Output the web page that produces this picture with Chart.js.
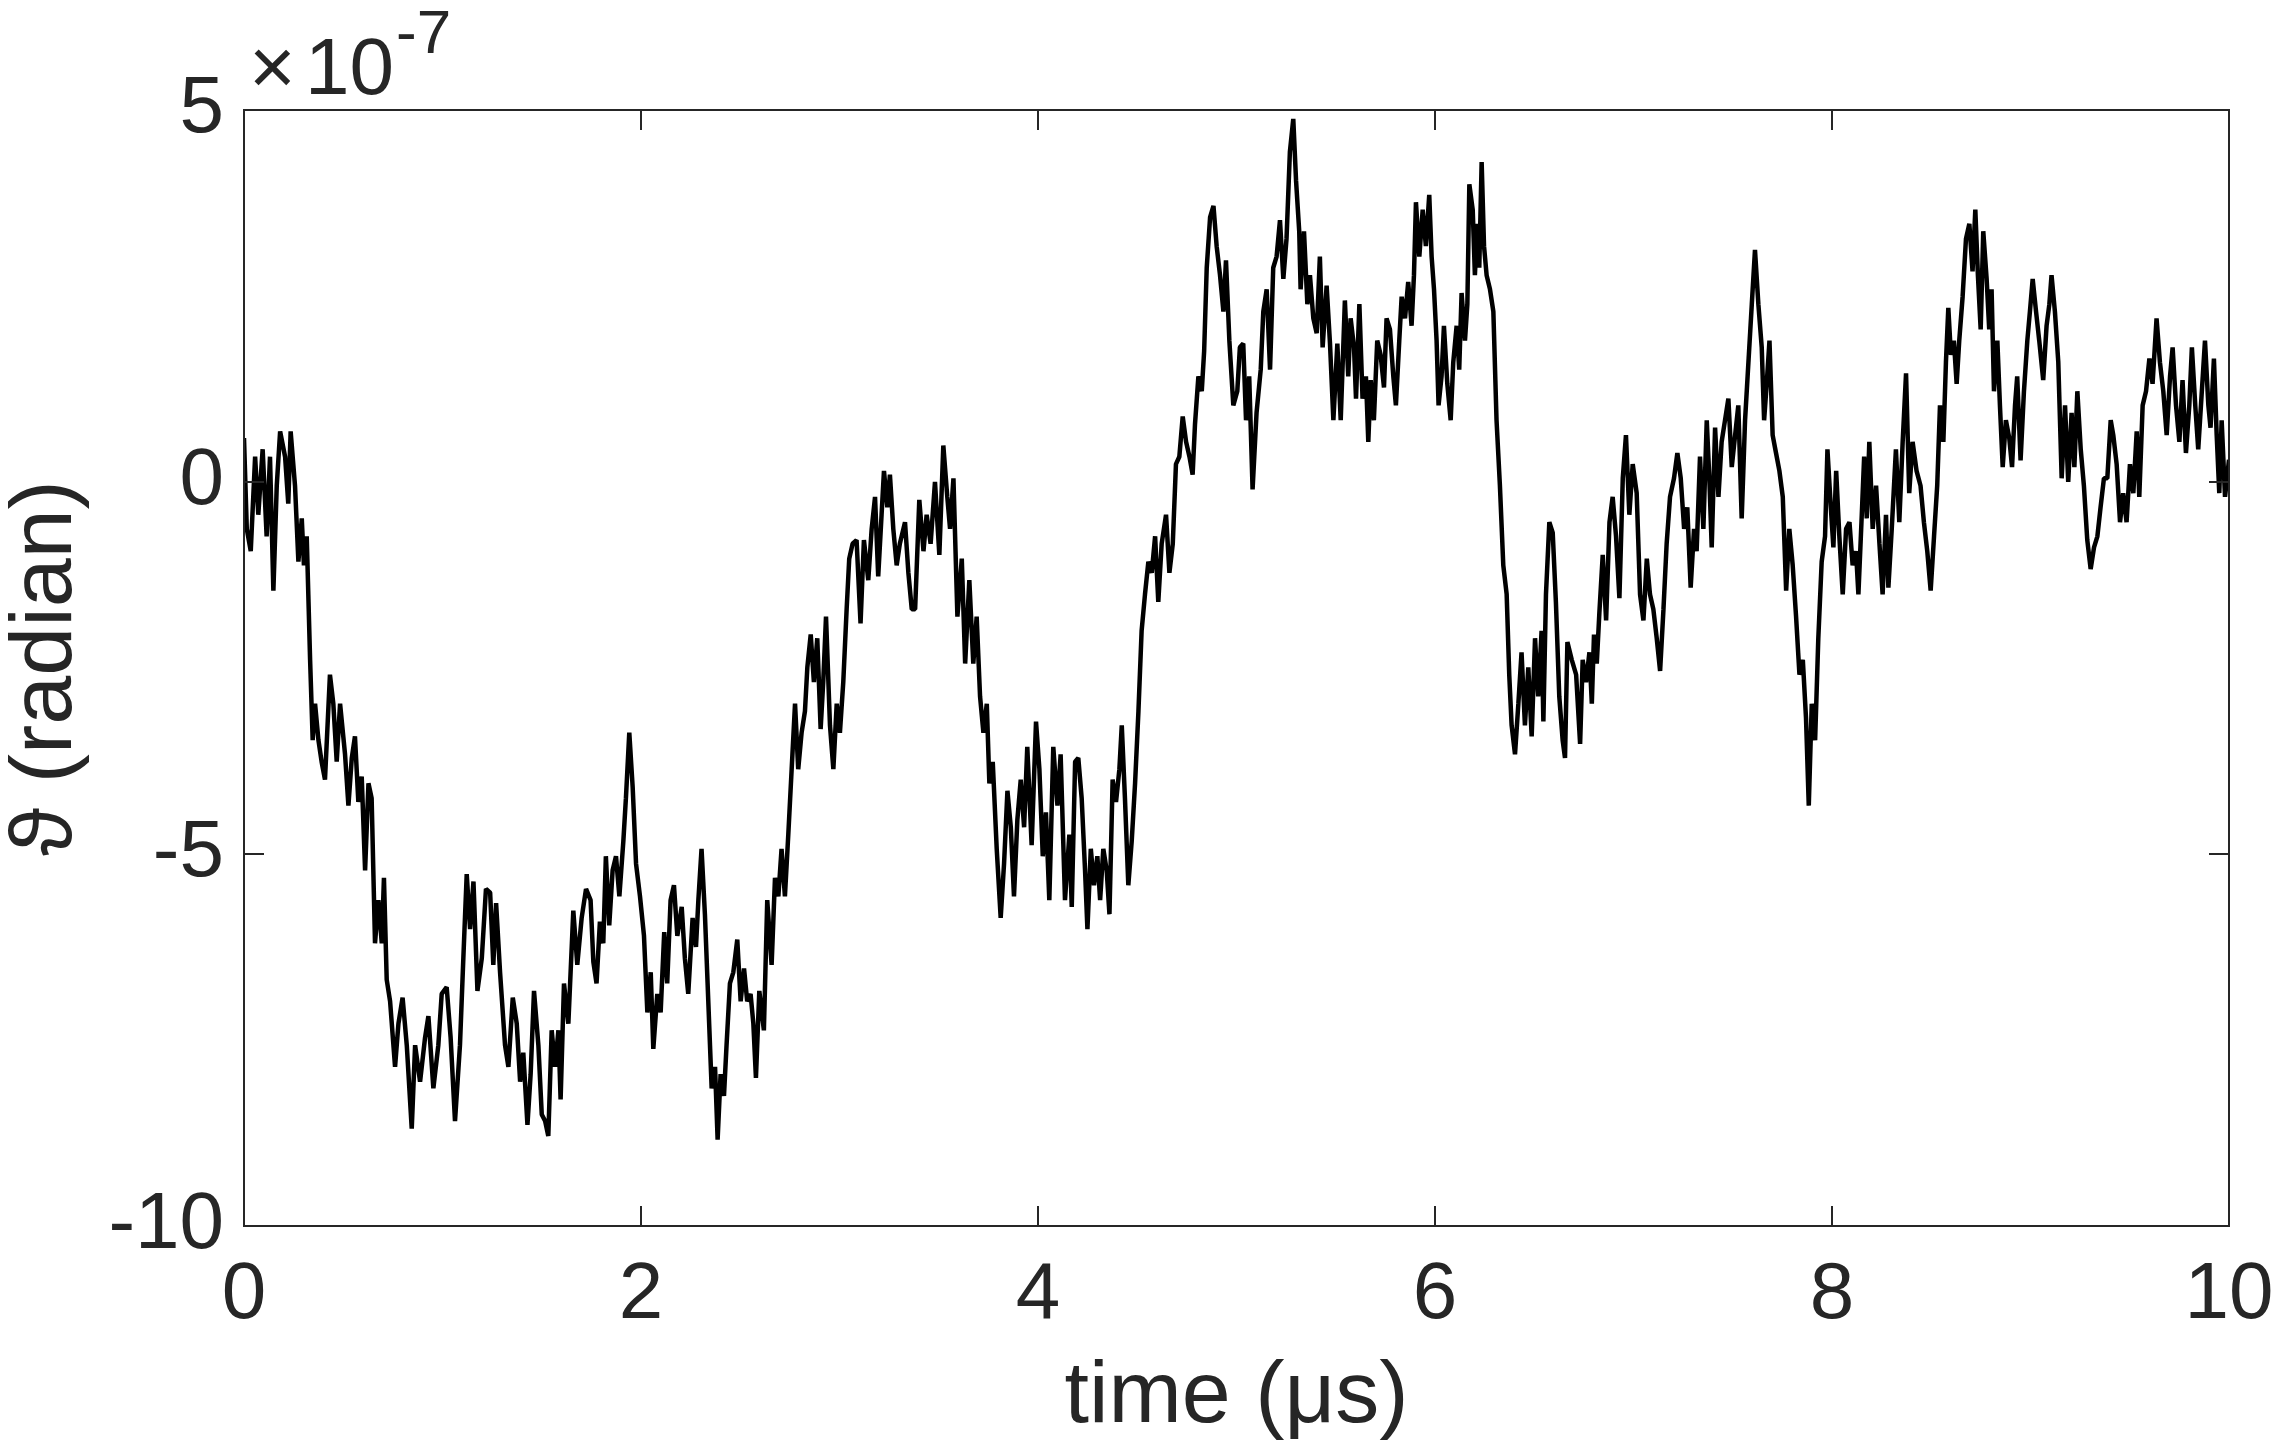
<!DOCTYPE html>
<html>
<head>
<meta charset="utf-8">
<script src="https://cdn.jsdelivr.net/npm/chart.js@4.4.1/dist/chart.umd.min.js"></script>
<style>
  html, body { margin: 0; padding: 0; background: #ffffff; overflow: hidden; }
  #wrap { width: 2275px; height: 1442px; }
</style>
</head>
<body>
<div id="wrap"><canvas id="c" width="2275" height="1442"></canvas></div>
<script>
// ---- data ----
// time in microseconds
const timeUs = [
  0, 0.014, 0.034, 0.056, 0.072, 0.094, 0.114, 0.131, 0.148, 0.165, 0.182, 0.207, 0.223, 0.235, 0.257, 0.274, 0.291, 0.302, 0.316, 0.333,
  0.346, 0.358, 0.375, 0.391, 0.408, 0.433, 0.450, 0.467, 0.484, 0.509, 0.526, 0.543, 0.559, 0.576, 0.593, 0.610, 0.627, 0.643, 0.660, 0.677,
  0.694, 0.705, 0.719, 0.736, 0.761, 0.778, 0.799, 0.820, 0.845, 0.862, 0.887, 0.912, 0.929, 0.954, 0.979, 0.996, 1.021, 1.041, 1.063, 1.088,
  1.105, 1.122, 1.139, 1.156, 1.176, 1.198, 1.219, 1.240, 1.256, 1.270, 1.290, 1.315, 1.332, 1.354, 1.374, 1.391, 1.407, 1.428, 1.444, 1.461,
  1.483, 1.500, 1.517, 1.533, 1.550, 1.567, 1.584, 1.595, 1.612, 1.634,
  1.659, 1.679, 1.701, 1.723, 1.746, 1.760, 1.776, 1.793, 1.810, 1.823, 1.840, 1.857, 1.874, 1.891, 1.911, 1.924, 1.941, 1.958, 1.975, 1.995,
  2.015, 2.032, 2.049, 2.062, 2.082, 2.099, 2.117, 2.132, 2.149, 2.166, 2.183, 2.205, 2.221, 2.238, 2.260, 2.277, 2.289, 2.305, 2.322, 2.339,
  2.356, 2.373, 2.386, 2.401, 2.418, 2.431, 2.448, 2.465, 2.485, 2.502, 2.519, 2.535, 2.552, 2.566, 2.579, 2.596, 2.619, 2.636, 2.658, 2.675,
  2.692, 2.708, 2.725, 2.742, 2.759, 2.776, 2.792, 2.809, 2.826, 2.838, 2.855, 2.871, 2.888, 2.905, 2.918, 2.932, 2.952, 2.969, 2.986, 3.002,
  3.019, 3.036, 3.049, 3.066, 3.086, 3.106, 3.123, 3.145, 3.162, 3.179, 3.195, 3.212, 3.224, 3.241, 3.254, 3.271, 3.288, 3.304,
  3.330, 3.347, 3.364, 3.381, 3.402, 3.423, 3.439, 3.459, 3.481, 3.503, 3.523, 3.543, 3.557, 3.574, 3.594, 3.616, 3.633, 3.654, 3.674, 3.691,
  3.708, 3.725, 3.742, 3.755, 3.772, 3.792, 3.812, 3.829, 3.846, 3.863, 3.879, 3.896, 3.913, 3.930, 3.946, 3.968, 3.990, 4.007, 4.024, 4.040,
  4.057, 4.077, 4.098, 4.114, 4.136, 4.158, 4.170, 4.187, 4.203, 4.220, 4.237, 4.249, 4.266, 4.282, 4.299, 4.313, 4.329, 4.346, 4.360, 4.376,
  4.393, 4.410, 4.422, 4.438, 4.455, 4.472, 4.489, 4.506, 4.522, 4.539, 4.556, 4.573, 4.590, 4.606, 4.623, 4.645, 4.662, 4.679, 4.695, 4.712,
  4.729, 4.746, 4.763, 4.779, 4.791, 4.808, 4.825, 4.837, 4.850, 4.867, 4.884, 4.900, 4.917, 4.934, 4.947, 4.964,
  4.984, 5.004, 5.017, 5.034, 5.048, 5.064, 5.081, 5.101, 5.122, 5.135, 5.152, 5.169, 5.185, 5.202, 5.219, 5.236, 5.252, 5.269, 5.286, 5.300,
  5.316, 5.323, 5.340, 5.357, 5.370, 5.387, 5.404, 5.420, 5.434, 5.454, 5.471, 5.488, 5.508, 5.525, 5.546, 5.563, 5.575, 5.592, 5.602, 5.619,
  5.635, 5.652, 5.664, 5.676, 5.692, 5.709, 5.726, 5.743, 5.756, 5.773, 5.790, 5.803, 5.820, 5.832, 5.849, 5.865, 5.882, 5.894, 5.904, 5.921,
  5.938, 5.954, 5.971, 5.983, 5.995, 6.008, 6.018, 6.033, 6.045, 6.062, 6.079, 6.092, 6.109, 6.122, 6.134, 6.151, 6.163, 6.173, 6.190, 6.201,
  6.213, 6.223, 6.235, 6.247, 6.260, 6.277, 6.294, 6.310, 6.327, 6.344, 6.361, 6.374, 6.386, 6.403, 6.420, 6.436, 6.453, 6.470, 6.487, 6.504,
  6.520, 6.537, 6.546, 6.559, 6.576, 6.593, 6.609, 6.626, 6.643, 6.655,
  6.667, 6.689, 6.711, 6.731, 6.744, 6.761, 6.778, 6.790, 6.801, 6.815, 6.828, 6.845, 6.862, 6.879, 6.895, 6.912, 6.929, 6.946, 6.962, 6.979,
  6.996, 7.016, 7.033, 7.050, 7.067, 7.083, 7.100, 7.117, 7.134, 7.151, 7.167, 7.184, 7.204, 7.221, 7.238, 7.255, 7.271, 7.288, 7.305, 7.318,
  7.335, 7.352, 7.369, 7.382, 7.394, 7.411, 7.428, 7.444, 7.461, 7.478, 7.495, 7.512, 7.528, 7.545, 7.562, 7.579, 7.596, 7.612, 7.629, 7.646,
  7.658, 7.671, 7.685, 7.701, 7.718, 7.735, 7.752, 7.769, 7.785, 7.802, 7.819, 7.836, 7.853, 7.869, 7.883, 7.898, 7.915, 7.931, 7.948, 7.965,
  7.977, 7.994, 8.007, 8.021, 8.037, 8.054, 8.071, 8.088, 8.104, 8.121, 8.133, 8.150, 8.162, 8.175, 8.188, 8.205, 8.222, 8.239, 8.255, 8.272,
  8.284, 8.301,
  8.322, 8.339, 8.356, 8.373, 8.389, 8.406, 8.426, 8.446, 8.463, 8.480, 8.497, 8.514, 8.530, 8.544, 8.561, 8.574, 8.586, 8.599, 8.614, 8.628,
  8.641, 8.658, 8.675, 8.692, 8.708, 8.722, 8.735, 8.749, 8.762, 8.779, 8.792, 8.804, 8.816, 8.833, 8.846, 8.860, 8.876, 8.893, 8.907, 8.922,
  8.933, 8.950, 8.967, 8.984, 8.997, 9.011, 9.028, 9.044, 9.064, 9.081, 9.095, 9.106, 9.123, 9.140, 9.157, 9.174, 9.190, 9.207, 9.221, 9.236,
  9.253, 9.269, 9.286, 9.303, 9.320, 9.337, 9.353, 9.370, 9.387, 9.404, 9.417, 9.434, 9.451, 9.467, 9.484, 9.501, 9.518, 9.535, 9.548, 9.565,
  9.582, 9.599, 9.615, 9.635, 9.652, 9.669, 9.686, 9.703, 9.716, 9.733, 9.750, 9.766, 9.783, 9.800, 9.813, 9.830, 9.845, 9.862, 9.879, 9.896,
  9.907, 9.924, 9.938, 9.951, 9.963, 9.980, 10.0
];

// angle theta, in units of 1e-7 radian
const thetaE7 = [
  0.59, -0.63, -0.93, 0.34, -0.44, 0.44, -0.73, 0.34, -1.46, -0.05, 0.68, 0.34, -0.29, 0.68, -0.05, -1.07, -0.49, -1.12, -0.73, -2.39,
  -3.47, -2.98, -3.47, -3.76, -4.0, -2.59, -2.98, -3.76, -2.98, -3.66, -4.35, -3.71, -3.42, -4.30, -3.96, -5.22, -4.05, -4.25, -6.20, -5.62,
  -6.20, -5.32, -6.69, -6.98, -7.86, -7.28, -6.93, -7.57, -8.69, -7.57, -8.06, -7.47, -7.18, -8.15, -7.57, -6.88, -6.79, -7.47, -8.59, -7.57,
  -6.40, -5.27, -6.01, -5.37, -6.84, -6.40, -5.47, -5.52, -6.49, -5.66, -6.59, -7.57, -7.86, -6.93, -7.28, -8.06, -7.67, -8.64, -7.96, -6.84,
  -7.57, -8.50, -8.59, -8.79, -7.37, -7.86, -7.37, -8.30, -6.74, -7.28,
  -5.76, -6.49, -5.86, -5.47, -5.62, -6.45, -6.74, -5.91, -6.20, -5.03, -5.96, -5.22, -5.03, -5.57, -4.83, -4.25, -3.37, -4.10, -5.13, -5.57,
  -6.10, -7.13, -6.59, -7.62, -6.88, -7.13, -6.05, -6.74, -5.62, -5.42, -6.10, -5.71, -6.40, -6.88, -5.86, -6.25, -5.62, -4.93, -5.81, -6.98,
  -8.15, -7.86, -8.84, -7.96, -8.25, -7.57, -6.74, -6.59, -6.15, -6.98, -6.54, -6.98, -6.88, -7.28, -8.01, -6.84, -7.37, -5.62, -6.49, -5.32,
  -5.57, -4.93, -5.57, -4.74, -3.86, -2.98, -3.86, -3.37, -3.08, -2.49, -2.05, -2.69, -2.10, -3.32, -2.69, -1.81, -3.27, -3.86, -2.98, -3.37,
  -2.69, -1.71, -1.03, -0.83, -0.78, -1.90, -0.78, -1.32, -0.63, -0.20, -1.27, -0.44, 0.15, -0.34, 0.10, -0.63, -1.12, -0.83,
  -0.54, -1.22, -1.71, -1.71, -0.24, -0.93, -0.44, -0.83, 0.00, -0.98, 0.49, -0.20, -0.63, 0.05, -1.81, -1.03, -2.44, -1.32, -2.44, -1.81,
  -2.88, -3.37, -2.98, -4.05, -3.76, -4.93, -5.86, -5.13, -4.15, -4.64, -5.57, -4.54, -4.00, -4.64, -3.56, -4.88, -3.22, -3.86, -5.03, -4.44,
  -5.62, -3.56, -4.35, -3.66, -5.62, -4.74, -5.71, -3.76, -3.71, -4.25, -5.22, -6.01, -4.93, -5.42, -5.03, -5.62, -4.93, -5.22, -5.81, -4.00,
  -4.30, -3.86, -3.27, -4.25, -5.42, -4.83, -4.05, -3.08, -2.00, -1.51, -1.07, -1.22, -0.73, -1.61, -0.83, -0.44, -1.22, -0.83, 0.24, 0.34,
  0.88, 0.54, 0.34, 0.10, 0.78, 1.42, 1.22, 1.76, 2.88, 3.56, 3.71, 3.17, 2.78, 2.29, 2.98, 1.90,
  1.03, 1.22, 1.81, 1.86, 0.83, 1.42, -0.10, 0.93, 1.51, 2.29, 2.59, 1.51, 2.88, 3.03, 3.52, 2.73, 3.27, 4.44, 4.88, 4.05,
  3.37, 2.59, 3.37, 2.39, 2.78, 2.20, 2.00, 3.03, 1.81, 2.64, 1.86, 0.83, 1.86, 0.83, 2.44, 1.42, 2.20, 1.81, 1.12, 2.39,
  1.12, 1.42, 0.54, 1.37, 0.83, 1.90, 1.71, 1.27, 2.20, 2.05, 1.42, 1.03, 1.90, 2.49, 2.20, 2.69, 2.10, 2.78, 3.76, 3.03,
  3.66, 3.17, 3.86, 3.03, 2.59, 1.90, 1.03, 1.42, 2.10, 1.32, 0.83, 1.61, 2.10, 1.51, 2.54, 1.90, 2.39, 4.00, 3.66, 2.78,
  3.47, 2.88, 4.30, 3.17, 2.78, 2.59, 2.29, 0.83, -0.05, -1.12, -1.51, -2.59, -3.27, -3.66, -2.98, -2.29, -3.27, -2.49, -3.42, -2.10,
  -2.88, -2.00, -3.22, -1.51, -0.54, -0.68, -1.61, -2.88, -3.47, -3.71,
  -2.15, -2.39, -2.59, -3.52, -2.39, -2.69, -2.29, -2.98, -2.05, -2.44, -1.76, -0.98, -1.86, -0.54, -0.20, -0.73, -1.56, 0.05, 0.63, -0.44,
  0.24, -0.15, -1.51, -1.86, -1.03, -1.51, -1.71, -2.10, -2.54, -1.71, -0.83, -0.20, 0.05, 0.39, 0.05, -0.63, -0.34, -1.42, -0.63, -0.93,
  0.34, -0.63, 0.83, 0.05, -0.88, 0.73, -0.20, 0.54, 0.83, 1.12, 0.20, 0.63, 1.03, -0.49, 0.83, 1.61, 2.39, 3.12, 2.39, 1.81,
  0.83, 1.32, 1.90, 0.63, 0.39, 0.15, -0.20, -1.46, -0.63, -1.12, -1.81, -2.59, -2.39, -3.17, -4.35, -2.98, -3.47, -2.10, -1.07, -0.73,
  0.44, -0.34, -0.88, 0.15, -0.73, -1.51, -0.63, -0.54, -1.12, -0.93, -1.51, -0.44, 0.34, -0.49, 0.54, -0.63, -0.05, -0.83, -1.51, -0.44,
  -1.42, -0.63,
  0.44, -0.54, 0.54, 1.46, -0.15, 0.54, 0.15, -0.05, -0.54, -0.93, -1.46, -0.73, -0.05, 1.03, 0.54, 1.61, 2.34, 1.71, 1.90, 1.32,
  1.90, 2.49, 3.27, 3.47, 2.83, 3.66, 2.78, 2.05, 3.37, 2.73, 2.05, 2.59, 1.22, 1.90, 1.03, 0.20, 0.83, 0.59, 0.20, 1.03,
  1.42, 0.29, 1.22, 1.90, 2.29, 2.73, 2.29, 1.90, 1.37, 2.10, 2.39, 2.78, 2.29, 1.61, 0.05, 1.03, 0.00, 0.93, 0.20, 1.22,
  0.44, -0.05, -0.78, -1.17, -0.88, -0.73, -0.34, 0.05, 0.05, 0.83, 0.63, 0.24, -0.54, -0.15, -0.54, 0.24, -0.15, 0.68, -0.20, 1.03,
  1.22, 1.66, 1.32, 2.20, 1.61, 1.22, 0.63, 1.42, 1.81, 1.03, 0.54, 1.37, 0.39, 1.03, 1.81, 1.03, 0.44, 1.17, 1.90, 1.03,
  0.73, 1.66, 0.63, -0.15, 0.83, -0.20, 0.30
];

const xTicks = [0, 2, 4, 6, 8, 10];
const yTicks = [-10, -5, 0, 5];
const xTitle = 'time (\u03bcs)';
const yTitle = '\u03d1 (radian)';
const exponentBase = '10';
const exponentPower = '-7';

if (timeUs.length !== thetaE7.length) console.error('length mismatch', timeUs.length, thetaE7.length);

const FONT = '"Liberation Sans", Arial, Helvetica, sans-serif';
const INK = '#262626';

const points = timeUs.map((t, i) => ({ x: t, y: thetaE7[i] }));

const boxPlugin = {
  id: 'matlabBox',
  afterDatasetsDraw(chart) {
    const { ctx, chartArea: a, scales: { x, y } } = chart;
    const L = 20;
    ctx.save();
    ctx.strokeStyle = INK;
    ctx.lineWidth = 2;
    ctx.strokeRect(a.left, a.top, a.right - a.left, a.bottom - a.top);
    ctx.beginPath();
    x.ticks.forEach(t => {
      const px = Math.round(x.getPixelForValue(t.value));
      ctx.moveTo(px, a.bottom); ctx.lineTo(px, a.bottom - L);
      ctx.moveTo(px, a.top); ctx.lineTo(px, a.top + L);
    });
    y.ticks.forEach(t => {
      const py = Math.round(y.getPixelForValue(t.value));
      ctx.moveTo(a.left, py); ctx.lineTo(a.left + L, py);
      ctx.moveTo(a.right, py); ctx.lineTo(a.right - L, py);
    });
    ctx.stroke();

    // exponent label  x10^-7
    ctx.fillStyle = INK;
    ctx.textBaseline = 'alphabetic';
    ctx.textAlign = 'left';
    ctx.font = '80px ' + FONT;
    const baseY = a.top - 16;
    ctx.fillText('\u00d7', a.left + 5, baseY);
    ctx.fillText(exponentBase, a.left + 61, baseY);
    ctx.font = '62px ' + FONT;
    ctx.fillText(exponentPower, a.left + 152, a.top - 57);
    ctx.restore();
  }
};

new Chart(document.getElementById('c'), {
  type: 'line',
  data: {
    datasets: [{
      data: points,
      borderColor: '#000000',
      borderWidth: 4.5,
      borderJoinStyle: 'bevel',
      pointRadius: 0,
      tension: 0,
      fill: false
    }]
  },
  options: {
    responsive: false,
    animation: false,
    devicePixelRatio: 1,
    layout: { padding: { left: 0, right: 46, top: 110, bottom: 0 } },
    plugins: { legend: { display: false }, tooltip: { enabled: false } },
    scales: {
      x: {
        type: 'linear',
        min: 0, max: 10,
        afterBuildTicks: s => { s.ticks = xTicks.map(v => ({ value: v })); },
        afterFit: s => { s.height = 216; s.paddingLeft = 0; s.paddingRight = 0; },
        grid: { display: false, drawTicks: false },
        border: { display: false },
        ticks: {
          font: { family: FONT, size: 80 },
          color: INK,
          padding: 22,
          maxRotation: 0,
          autoSkip: false,
          callback: v => String(v)
        },
        title: {
          display: true,
          text: xTitle,
          color: INK,
          font: { family: FONT, size: 88, lineHeight: 1 },
          padding: { top: 0, bottom: 0 }
        }
      },
      y: {
        type: 'linear',
        min: -10, max: 5,
        afterBuildTicks: s => { s.ticks = yTicks.map(v => ({ value: v })); },
        afterFit: s => { s.width = 244; s.paddingTop = 0; s.paddingBottom = 0; },
        grid: { display: false, drawTicks: false },
        border: { display: false },
        ticks: {
          font: { family: FONT, size: 80 },
          color: INK,
          padding: 20,
          autoSkip: false,
          callback: v => String(v)
        },
        title: {
          display: true,
          text: yTitle,
          color: INK,
          font: { family: FONT, size: 88, lineHeight: 1 },
          padding: { top: 3, bottom: 0 }
        }
      }
    }
  },
  plugins: [boxPlugin]
});
</script>
</body>
</html>
